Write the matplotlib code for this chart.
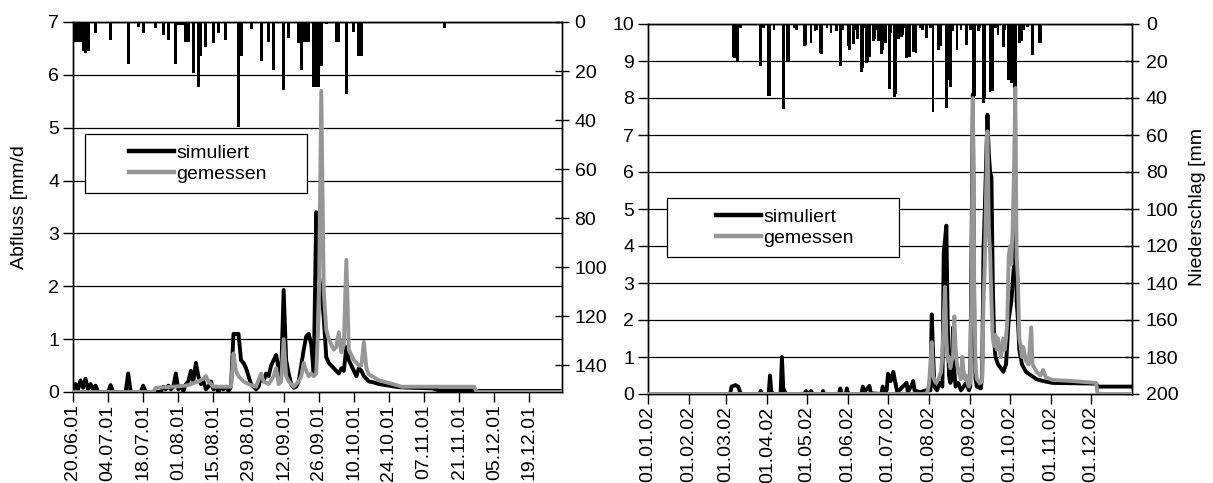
import matplotlib
matplotlib.use("Agg")
import matplotlib.pyplot as plt
from matplotlib.patches import Rectangle
from matplotlib.lines import Line2D
import numpy as np
import datetime as dt

plt.rcParams['font.family'] = ['Liberation Sans', 'DejaVu Sans']

# ---------------- data: left panel (2001) ----------------
L_START = "2001-06-20"
L_END = "2002-01-01"
L_TICKS = ["20.06.01", "04.07.01", "18.07.01", "01.08.01", "15.08.01", "29.08.01",
           "12.09.01", "26.09.01", "10.10.01", "24.10.01", "07.11.01", "21.11.01",
           "05.12.01", "19.12.01"]

L_SIM_DAY = [0, 1, 2, 3, 4, 5, 6, 7, 8, 9, 10, 14, 15, 16, 21, 22, 23, 27, 28, 29,
             35, 36, 37, 38, 39, 40, 41, 42, 43, 44, 45, 46, 47, 48, 49, 50, 51, 52,
             53, 54, 55, 56, 57, 58, 59, 60, 61, 62, 63, 64, 65, 66, 67, 68, 69, 70,
             71, 72, 73, 74, 75, 76, 77, 78, 79, 80, 81, 82, 83, 84, 85, 86, 87, 88,
             89, 90, 91, 92, 93, 94, 95, 96, 97, 98, 99, 100, 101, 102, 103, 104,
             105, 106, 107, 108, 109, 110, 111, 112, 113, 114, 115, 116, 117, 118,
             120, 122, 126, 130, 135, 143, 146, 160, 161, 194]
L_SIM_VAL = [0.0, 0.15, 0.05, 0.22, 0.08, 0.25, 0.05, 0.15, 0.05, 0.12, 0.0, 0.0, 0.13,
             0.0, 0.0, 0.35, 0.0, 0.0, 0.12, 0.0, 0.0, 0.1, 0.05, 0.12, 0.05, 0.1,
             0.35, 0.05, 0.1, 0.02, 0.15, 0.2, 0.4, 0.2, 0.55, 0.3, 0.15, 0.2, 0.05,
             0.1, 0.2, 0.05, 0.1, 0.0, 0.1, 0.05, 0.1, 0.02, 0.1, 1.1, 1.1, 1.1, 0.6,
             0.55, 0.45, 0.3, 0.15, 0.1, 0.05, 0.1, 0.3, 0.2, 0.35, 0.3, 0.5, 0.6, 0.7,
             0.45, 0.3, 1.93, 0.6, 0.35, 0.15, 0.08, 0.1, 0.2, 0.5, 0.8, 1.05, 1.1,
             0.9, 0.35, 3.4, 2.2, 1.9, 1.4, 0.66, 0.55, 0.5, 0.45, 0.4, 0.35, 0.45,
             0.4, 0.85, 0.6, 0.5, 0.4, 0.3, 0.45, 0.4, 0.3, 0.25, 0.2, 0.18, 0.15,
             0.12, 0.09, 0.08, 0.07, 0.03, 0.03, 0.02, 0.02]

L_OBS_DAY = [0, 32, 33, 40, 45, 47, 50, 52, 53, 54, 55, 56, 63, 64, 65, 66, 68, 70, 73,
             75, 76, 78, 80, 81, 82, 83, 84, 85, 86, 88, 90, 91, 92, 93, 94, 95, 96,
             97, 98, 99, 100, 101, 102, 103, 104, 105, 106, 107, 108, 109, 110, 111,
             112, 113, 114, 115, 116, 117, 118, 120, 122, 126, 129, 131, 160, 161, 195]
L_OBS_VAL = [0.0, 0.0, 0.08, 0.1, 0.12, 0.15, 0.2, 0.25, 0.3, 0.2, 0.15, 0.1, 0.1, 0.73,
             0.4, 0.3, 0.2, 0.15, 0.1, 0.35, 0.2, 0.15, 0.3, 0.45, 0.15, 0.2, 1.0,
             0.3, 0.2, 0.1, 0.2, 0.3, 0.55, 0.4, 0.3, 0.35, 0.3, 0.35, 1.5, 5.7, 1.9,
             1.17, 1.0, 0.9, 0.8, 0.85, 1.13, 0.75, 0.9, 2.5, 0.8, 0.7, 0.6, 0.55, 0.5,
             0.5, 0.95, 0.45, 0.33, 0.28, 0.22, 0.17, 0.13, 0.1, 0.1, 0.0, 0.0]

L_P_DAY = [0, 1, 2, 3, 4, 5, 6, 9, 15, 22, 26, 28, 33, 36, 38, 41, 42, 43, 44, 45, 46,
           48, 50, 51, 53, 56, 58, 61, 66, 67, 71, 75, 78, 80, 84, 86, 90, 91, 92, 93,
           94, 96, 97, 98, 99, 101, 105, 106, 109, 112, 114, 115, 148]
L_P_MM = [8, 8, 8, 8, 12, 12.6, 12, 4.5, 7.3, 17, 2, 4.6, 2.4, 5.3, 7.3, 17, 1.2, 1.2,
          1.2, 8, 8, 21, 26.5, 14, 10, 8.5, 4.6, 7.3, 43, 14, 3, 16, 8, 19.5, 27.7,
          6.7, 8.5, 19.5, 8, 8, 8, 26.6, 26.6, 26.6, 18, 1, 8, 8, 29.5, 4, 14, 14, 2.6]

# ---------------- data: right panel (2002) ----------------
R_START = "2002-01-01"
R_END = "2003-01-01"
R_TICKS = ["01.01.02", "01.02.02", "01.03.02", "01.04.02", "01.05.02", "01.06.02",
           "01.07.02", "01.08.02", "01.09.02", "01.10.02", "01.11.02", "01.12.02"]

R_SIM_DAY = [0, 62, 63, 66, 68, 70, 84, 85, 86, 91, 92, 93, 95, 100, 101, 102, 104, 118,
             119, 120, 123, 124, 131, 132, 133, 144, 145, 146, 149, 150, 151, 161, 162,
             163, 167, 168, 176, 177, 178, 180, 181, 183, 185, 186, 188, 195, 196, 199,
             200, 201, 205, 210, 213, 214, 215, 216, 218, 220, 222, 223, 225, 226, 227,
             228, 229, 230, 231, 232, 234, 236, 238, 240, 242, 243, 244, 245, 246, 247,
             248, 251, 252, 253, 254, 256, 257, 258, 259, 260, 261, 262, 264, 266, 268,
             270, 272, 274, 276, 277, 278, 279, 280, 282, 285, 289, 293, 298, 305, 338,
             339, 364]
R_SIM_VAL = [0, 0, 0.2, 0.24, 0.2, 0, 0, 0.08, 0, 0, 0.5, 0.05, 0, 0, 1.0, 0.15, 0, 0,
             0.08, 0, 0.08, 0, 0, 0.08, 0, 0, 0.15, 0, 0, 0.15, 0, 0, 0.2, 0.05, 0.22,
             0.02, 0, 0.2, 0, 0.1, 0.55, 0.35, 0.6, 0.4, 0.05, 0.3, 0.05, 0.25, 0.35,
             0.1, 0.05, 0.1, 0.1, 2.15, 1.1, 0.2, 0.1, 0.3, 0.2, 3.8, 4.55, 2.0, 0.5,
             0.3, 0.4, 1.8, 0.6, 0.2, 0.3, 0.1, 0.2, 0.3, 0.1, 0.2, 4.0, 8.1, 2.0, 0.4,
             0.2, 0.15, 0.5, 3.9, 5.0, 7.55, 6.5, 6.0, 5.86, 3.0, 1.5, 1.0, 0.8, 0.7,
             0.6, 0.8, 2.0, 2.5, 3.5, 6.0, 2.5, 2.0, 1.2, 0.8, 0.6, 0.5, 0.4, 0.35, 0.3,
             0.28, 0.2, 0.2]

R_OBS_DAY = [0, 210, 211, 212, 214, 215, 216, 217, 219, 221, 222, 223, 224, 225, 226,
             227, 228, 229, 230, 231, 232, 233, 234, 235, 236, 237, 238, 239, 240, 241,
             242, 243, 244, 245, 246, 247, 248, 250, 251, 252, 253, 254, 255, 256, 257,
             258, 259, 260, 261, 262, 263, 264, 265, 266, 267, 268, 269, 270, 271, 272,
             273, 274, 275, 276, 277, 278, 279, 280, 281, 282, 283, 285, 287, 289, 290,
             293, 296, 298, 300, 305, 320, 338, 339, 364]
R_OBS_VAL = [0, 0, 0.1, 0.3, 1.4, 0.5, 0.38, 0.3, 0.4, 0.6, 1.0, 2.0, 2.9, 1.5, 0.9,
             1.0, 0.7, 0.9, 1.0, 2.1, 1.2, 0.8, 0.6, 0.5, 0.4, 1.0, 0.6, 0.4, 0.5, 0.3,
             0.2, 0.3, 3.0, 8.0, 3.0, 0.7, 0.4, 0.3, 0.3, 0.4, 2.5, 3.5, 5.5, 7.1, 4.5,
             3.8, 2.5, 1.5, 1.3, 1.6, 1.2, 1.5, 1.3, 1.0, 1.2, 1.5, 1.2, 1.5, 2.0, 3.7,
             4.0, 3.5, 4.5, 6.0, 8.27, 3.7, 3.1, 1.5, 1.3, 1.0, 1.27, 0.9, 0.8, 1.8,
             0.8, 0.6, 0.5, 0.65, 0.45, 0.38, 0.35, 0.3, 0.0, 0.0]

R_P_DAY = [64, 65, 67, 68, 70, 85, 87, 91, 92, 95, 102, 105, 106, 110, 112, 118, 119,
           123, 126, 127, 130, 131, 135, 138, 142, 145, 147, 151, 152, 155, 157, 158,
           161, 162, 163, 165, 166, 167, 170, 171, 172, 174, 176, 177, 179, 182, 183,
           186, 187, 189, 191, 192, 193, 195, 197, 200, 202, 205, 207, 210, 213, 215,
           219, 221, 225, 227, 228, 230, 233, 236, 240, 243, 245, 246, 249, 250, 253,
           254, 258, 260, 262, 264, 268, 269, 272, 274, 276, 277, 280, 282, 283, 286,
           290, 295, 296]
R_P_MM = [18, 18.5, 20, 20, 2, 22.7, 2, 39, 39, 3, 46, 20, 20, 2, 3, 12, 11.4, 10, 4,
          3, 15.8, 16, 2, 5, 4, 22.5, 3, 12, 14, 11, 3, 8, 26, 24, 2, 21, 20, 18, 9, 8,
          3, 9, 16, 14, 10.5, 35, 5, 39.5, 38, 8, 7, 6, 2, 18.5, 18, 15, 15.8, 2, 3,
          7.8, 2, 47.5, 14, 12, 45.6, 30, 34, 4, 14, 3, 11.4, 3, 39, 39, 4, 2, 42.8,
          40, 36.5, 36, 2, 6, 12.4, 3, 30, 32, 46.5, 45, 10.5, 9, 3, 1.5, 16.8, 10, 10]

SIM_LABEL = "simuliert"
OBS_LABEL = "gemessen"
YLABEL_L = "Abfluss [mm/d"
YLABEL_R = "Niederschlag [mm"

# ---------------- styling ----------------
W, H = 1213, 483
FS = 14
BLACK = "#000000"
GRAY = "#969696"
LW = 2.8


def to_dates(start, days):
    s = np.datetime64(start)
    return s + np.array(days, dtype="timedelta64[D]")


def fx(px):
    return px / W


def fy(py):
    return 1 - py / H


fig = plt.figure(figsize=(W / 100, H / 100), dpi=100)


def make_panel(rect, start, end, ticks_lbl, ylim_top, yticks,
               p_max, p_ticks, sim, obs, prec, bar_w, rpad):
    ax = fig.add_axes(rect)
    axp = ax.twinx()
    ax.set_zorder(axp.get_zorder() + 1)
    ax.patch.set_visible(False)

    # precipitation bars (hanging from the top)
    axp.bar(to_dates(start, prec[0]), prec[1], width=bar_w, color=BLACK,
            align="center", zorder=3, linewidth=0)
    axp.set_ylim(p_max, 0)
    axp.set_yticks(p_ticks)
    axp.tick_params(axis="y", direction="inout", length=10, width=1,
                    labelsize=FS, pad=rpad)

    # discharge lines
    ax.plot(to_dates(start, sim[0]), sim[1], color=BLACK, lw=LW, zorder=4,
            solid_joinstyle="round")
    ax.plot(to_dates(start, obs[0]), obs[1], color=GRAY, lw=LW, zorder=5,
            solid_joinstyle="round")
    ax.set_ylim(0, ylim_top)
    ax.set_yticks(yticks)
    ax.set_xlim(np.datetime64(start), np.datetime64(end))
    tick_dates = [dt.datetime.strptime(t, "%d.%m.%y") for t in ticks_lbl]
    ax.set_xticks(tick_dates)
    ax.set_xticklabels(ticks_lbl, rotation=90)
    ax.tick_params(axis="x", direction="out", length=7, width=1, labelsize=FS,
                   pad=2)
    ax.tick_params(axis="y", direction="out", length=7, width=1, labelsize=FS,
                   pad=3)
    # horizontal gridlines at the discharge ticks
    for yv in yticks[1:]:
        axp.axhline(p_max - (yv / ylim_top) * p_max, color=BLACK, lw=0.9,
                    zorder=1)
    for a in (ax, axp):
        for s in a.spines.values():
            s.set_linewidth(1.0)
            s.set_color(BLACK)
    axp.set_xlim(np.datetime64(start), np.datetime64(end))
    return ax, axp


left_rect = [fx(73), fy(392), fx(562) - fx(73), fy(22) - fy(392)]
right_rect = [fx(648), fy(394), fx(1132) - fx(648), fy(24) - fy(394)]

axL, axLp = make_panel(left_rect, L_START, L_END, L_TICKS, 7, list(range(0, 8)),
                       151, list(range(0, 141, 20)),
                       (L_SIM_DAY, L_SIM_VAL), (L_OBS_DAY, L_OBS_VAL),
                       (L_P_DAY, L_P_MM), 1.2, 4)
axR, axRp = make_panel(right_rect, R_START, R_END, R_TICKS, 10,
                       list(range(0, 11)), 200, list(range(0, 201, 20)),
                       (R_SIM_DAY, R_SIM_VAL), (R_OBS_DAY, R_OBS_VAL),
                       (R_P_DAY, R_P_MM), 2.0, 5)

fig.text(fx(20), fy(207), YLABEL_L, rotation=90, ha="center", va="center",
         fontsize=FS)
fig.text(fx(1198), fy(207), YLABEL_R, rotation=90, ha="center", va="center",
         fontsize=FS)

handles = [Line2D([], [], color=BLACK, lw=3.2), Line2D([], [], color=GRAY, lw=3.2)]


def legend_box(x0, y0, x1, y1):
    r = Rectangle((fx(x0), fy(y1)), fx(x1) - fx(x0), fy(y0) - fy(y1),
                  transform=fig.transFigure, facecolor="white", edgecolor=BLACK,
                  lw=0.9, zorder=10)
    fig.add_artist(r)
    lg = fig.legend(handles, [SIM_LABEL, OBS_LABEL], loc="center",
                    bbox_to_anchor=(fx((x0 + x1) / 2 + 2), fy((y0 + y1) / 2)),
                    frameon=False, fontsize=FS, handlelength=2.3,
                    handletextpad=0.1, labelspacing=0.2, borderpad=0)
    lg.set_zorder(11)


legend_box(85, 134, 307, 193)
legend_box(667, 198, 899, 257)

fig.savefig("out.png", dpi=100)
